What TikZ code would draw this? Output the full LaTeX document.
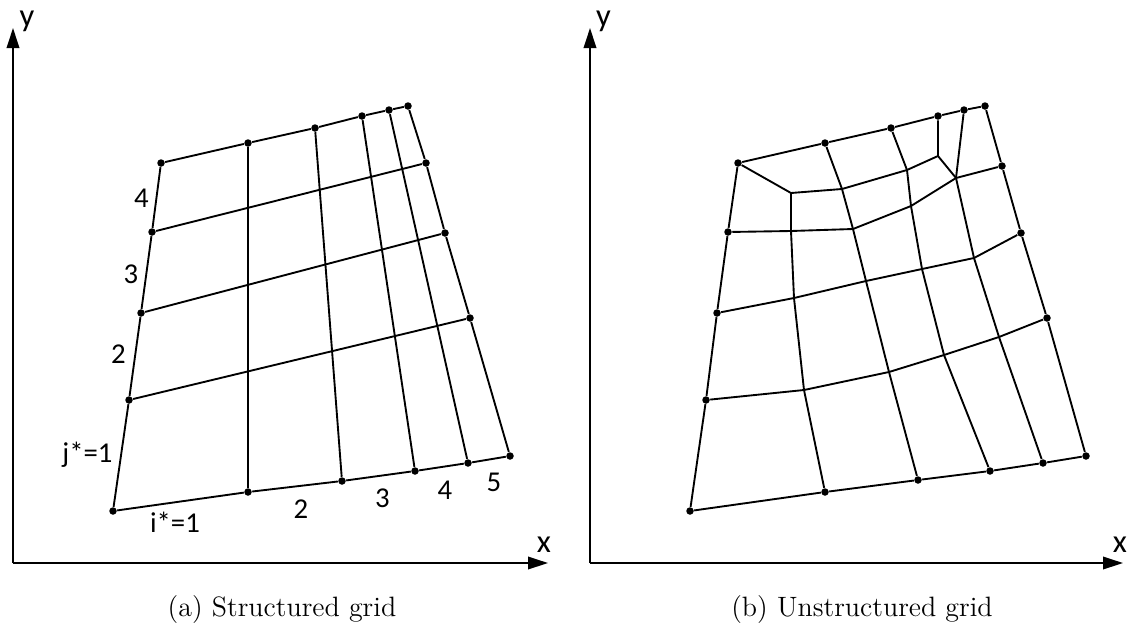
\documentclass[tikz,border=0pt]{standalone}
\usepackage{fontspec}
\newfontfamily\calibri{Carlito}
\usepackage{tikz}
\usetikzlibrary{arrows.meta}
\tikzset{
  ponto/.style={circle,fill=black,inner sep=0pt,minimum size=3pt},
  linha/.style={line width=0.75pt,black},
  eixo/.style={-{Triangle[length=8pt,width=5pt]},line width=0.8pt,black},
  rotulo/.style={font=\calibri\fontsize{11.5}{13}\selectfont,inner sep=0pt},
  rotuloEixo/.style={font=\calibri\fontsize{13}{14}\selectfont,inner sep=0pt},
  legenda/.style={font=\fontsize{11.2}{13}\selectfont,inner sep=0pt},
}

\begin{document}
\begin{tikzpicture}[x=0.4pt,y=-0.4pt,line join=round]
\useasboundingbox (0,0) rectangle (1127,628);
% eixos (a)
\coordinate (o1) at (13,563);
\coordinate (y1) at (13,28);
\coordinate (x1) at (548,563);
\draw[eixo] (o1) -- (y1);
\draw[eixo] (o1) -- (x1);
\node[rotuloEixo] (ly1) at (27,21) {y};
\node[rotuloEixo] (lx1) at (544,545) {x};
% grade estruturada
\node[ponto] (t1) at (161,163) {};
\node[ponto] (t2) at (248,143) {};
\node[ponto] (t3) at (315,128) {};
\node[ponto] (t4) at (362,116) {};
\node[ponto] (t5) at (389,110) {};
\node[ponto] (t6) at (408,106) {};
\node[ponto] (e4) at (152,232) {};
\node[ponto] (e3) at (141,313) {};
\node[ponto] (e2) at (129,400) {};
\node[ponto] (b1) at (113,511) {};
\node[ponto] (b2) at (248,492) {};
\node[ponto] (b3) at (342,481) {};
\node[ponto] (b4) at (415,471) {};
\node[ponto] (b5) at (468,463) {};
\node[ponto] (b6) at (510,456) {};
\node[ponto] (d4) at (426,163) {};
\node[ponto] (d3) at (445,233) {};
\node[ponto] (d2) at (470,318) {};
\draw[linha] (t1) -- (t2) -- (t3) -- (t4) -- (t5) -- (t6) -- (d4) -- (d3) -- (d2) -- (b6)
  -- (b5) -- (b4) -- (b3) -- (b2) -- (b1) -- (e2) -- (e3) -- (e4) -- (t1);
\draw[linha] (e4) -- (d4);
\draw[linha] (e3) -- (d3);
\draw[linha] (e2) -- (d2);
\draw[linha] (t2) -- (b2);
\draw[linha] (t3) -- (b3);
\draw[linha] (t4) -- (b4);
\draw[linha] (t5) -- (b5);
\node[rotulo] (j4) at (141.5,198.5) {4};
\node[rotulo] (j3) at (131,274.5) {3};
\node[rotulo] (j2) at (118.5,354) {2};
\node[rotulo] (j1) at (87.5,455) {j*=1};
\node[rotulo] (i1) at (175,522) {i*=1};
\node[rotulo] (i2) at (301,509) {2};
\node[rotulo] (i3) at (382.5,498.5) {3};
\node[rotulo] (i4) at (445,490) {4};
\node[rotulo] (i5) at (494,482) {5};
\node[legenda] (cap1) at (282,610) {(a) Structured grid};
% eixos (b)
\coordinate (o2) at (590,563);
\coordinate (y2) at (590,28);
\coordinate (x2) at (1123,563);
\draw[eixo] (o2) -- (y2);
\draw[eixo] (o2) -- (x2);
\node[rotuloEixo] (ly2) at (603.5,21) {y};
\node[rotuloEixo] (lx2) at (1120,545) {x};
% grade nao estruturada: contorno
\node[ponto] (nt1) at (738,163) {};
\node[ponto] (nt2) at (825,143) {};
\node[ponto] (nt3) at (891,128) {};
\node[ponto] (nt4) at (938,116) {};
\node[ponto] (nt5) at (964,110) {};
\node[ponto] (nt6) at (985,106) {};
\node[ponto] (ne4) at (728,232) {};
\node[ponto] (ne3) at (717,313) {};
\node[ponto] (ne2) at (706,400) {};
\node[ponto] (nb1) at (690,511) {};
\node[ponto] (nb2) at (825,492) {};
\node[ponto] (nb3) at (918,480) {};
\node[ponto] (nb4) at (990,471) {};
\node[ponto] (nb5) at (1043,463) {};
\node[ponto] (nb6) at (1086,456) {};
\node[ponto] (nd4) at (1002,166) {};
\node[ponto] (nd3) at (1021,233) {};
\node[ponto] (nd2) at (1047,318) {};
% grade nao estruturada: nos internos
\coordinate (nA) at (791,193);
\coordinate (nB) at (842,189);
\coordinate (nC) at (907,170);
\coordinate (nD) at (938,156);
\coordinate (nE) at (956,178);
\coordinate (nF) at (791,231);
\coordinate (nG) at (853,229);
\coordinate (nH) at (911,206);
\coordinate (nI) at (794,298);
\coordinate (nJ) at (866,281);
\coordinate (nK) at (922,269);
\coordinate (nL) at (974,258);
\coordinate (nM) at (804,390);
\coordinate (nN) at (889,372);
\coordinate (nO) at (944,355);
\coordinate (nP) at (999,337);
\draw[linha] (nt1) -- (nt2) -- (nt3) -- (nt4) -- (nt5) -- (nt6) -- (nd4) -- (nd3) -- (nd2) -- (nb6)
  -- (nb5) -- (nb4) -- (nb3) -- (nb2) -- (nb1) -- (ne2) -- (ne3) -- (ne4) -- (nt1);
\draw[linha] (nt1) -- (nA) -- (nB) -- (nC) -- (nD) -- (nt4);
\draw[linha] (nD) -- (nE) -- (nd4);
\draw[linha] (nt5) -- (nE);
\draw[linha] (ne4) -- (nF) -- (nG) -- (nH) -- (nE);
\draw[linha] (ne3) -- (nI) -- (nJ) -- (nK) -- (nL) -- (nd3);
\draw[linha] (ne2) -- (nM) -- (nN) -- (nO) -- (nP) -- (nd2);
\draw[linha] (nA) -- (nF) -- (nI) -- (nM) -- (nb2);
\draw[linha] (nt2) -- (nB) -- (nG) -- (nJ) -- (nN) -- (nb3);
\draw[linha] (nt3) -- (nC) -- (nH) -- (nK) -- (nO) -- (nb4);
\draw[linha] (nE) -- (nL) -- (nP) -- (nb5);
\node[legenda] (cap2) at (862,610) {(b) Unstructured grid};
\end{tikzpicture}
\end{document}
